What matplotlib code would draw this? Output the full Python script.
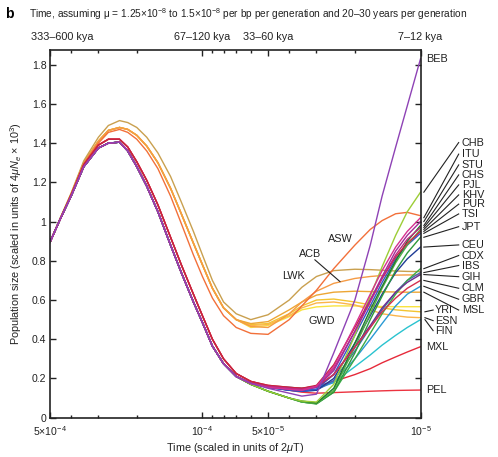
import matplotlib
matplotlib.use("Agg")
import matplotlib.pyplot as plt
import matplotlib.transforms as mtransforms

plt.rcParams["font.family"] = ["Liberation Sans", "DejaVu Sans"]
plt.rcParams["mathtext.fontset"] = "custom"
plt.rcParams["mathtext.rm"] = "Liberation Sans"
plt.rcParams["mathtext.it"] = "Liberation Sans:italic"
plt.rcParams["mathtext.bf"] = "Liberation Sans:bold"

# time grid, scaled in units of 2*mu*T
times_early = [5e-4, 4.5e-4, 4e-4, 3.5e-4, 3e-4, 2.7e-4, 2.4e-4, 2.2e-4, 2e-4,
               1.8e-4, 1.6e-4, 1.4e-4, 1.25e-4, 1.1e-4, 1e-4, 9e-5, 8e-5, 7e-5]
times_late = [6e-5, 5e-5, 4e-5, 3.5e-5, 3e-5, 2.5e-5, 2e-5, 1.7e-5, 1.5e-5,
              1.3e-5, 1.15e-5, 1e-5]

# ancestral part, shared by groups of populations
nonafr_early = [0.895, 1.01, 1.13, 1.28, 1.375, 1.40, 1.405, 1.36, 1.28, 1.18,
                1.05, 0.88, 0.74, 0.59, 0.485, 0.365, 0.275, 0.21]
amr_early = [0.895, 1.01, 1.135, 1.29, 1.39, 1.42, 1.42, 1.38, 1.305, 1.21,
             1.085, 0.92, 0.78, 0.63, 0.52, 0.40, 0.30, 0.225]
afr_top_early = [0.895, 1.015, 1.145, 1.31, 1.43, 1.49, 1.515, 1.505, 1.48, 1.43,
                 1.35, 1.23, 1.10, 0.95, 0.83, 0.70, 0.59, 0.53]
afr_mid_early = [0.895, 1.012, 1.14, 1.30, 1.41, 1.465, 1.48, 1.47, 1.44, 1.385,
                 1.30, 1.17, 1.04, 0.89, 0.78, 0.66, 0.56, 0.50]
afr_low_early = [0.895, 1.01, 1.138, 1.295, 1.40, 1.455, 1.47, 1.455, 1.42, 1.36,
                 1.27, 1.13, 0.99, 0.83, 0.72, 0.61, 0.52, 0.46]

# recent part, one list per population
yri = [0.475, 0.48, 0.53, 0.57, 0.60, 0.605, 0.59, 0.575, 0.56, 0.55, 0.545, 0.54]
lwk = [0.50, 0.525, 0.60, 0.665, 0.72, 0.75, 0.757, 0.755, 0.752, 0.748, 0.746, 0.745]
gwd = [0.46, 0.47, 0.515, 0.55, 0.565, 0.57, 0.57, 0.568, 0.567, 0.566, 0.566, 0.566]
msl = [0.48, 0.49, 0.55, 0.59, 0.625, 0.64, 0.645, 0.643, 0.642, 0.641, 0.64, 0.64]
esn = [0.47, 0.475, 0.52, 0.56, 0.585, 0.59, 0.575, 0.55, 0.53, 0.52, 0.513, 0.51]
asw = [0.43, 0.425, 0.50, 0.57, 0.65, 0.76, 0.88, 0.96, 1.005, 1.04, 1.047, 1.03]
acb = [0.465, 0.46, 0.53, 0.59, 0.645, 0.685, 0.71, 0.72, 0.725, 0.727, 0.728, 0.728]

ceu = [0.175, 0.155, 0.14, 0.135, 0.14, 0.20, 0.38, 0.52, 0.63, 0.74, 0.81, 0.87]
tsi = [0.175, 0.155, 0.14, 0.135, 0.145, 0.22, 0.42, 0.57, 0.69, 0.81, 0.88, 0.94]
fin = [0.175, 0.16, 0.155, 0.15, 0.155, 0.18, 0.26, 0.32, 0.37, 0.42, 0.46, 0.50]
gbr = [0.175, 0.155, 0.145, 0.14, 0.145, 0.18, 0.30, 0.40, 0.48, 0.57, 0.63, 0.67]
ibs = [0.175, 0.155, 0.14, 0.135, 0.14, 0.19, 0.34, 0.46, 0.55, 0.64, 0.70, 0.74]

chb = [0.17, 0.135, 0.10, 0.085, 0.08, 0.17, 0.42, 0.62, 0.77, 0.93, 1.05, 1.15]
jpt = [0.17, 0.135, 0.10, 0.08, 0.07, 0.13, 0.33, 0.50, 0.62, 0.75, 0.84, 0.92]
chs = [0.17, 0.135, 0.10, 0.085, 0.075, 0.15, 0.38, 0.55, 0.67, 0.80, 0.90, 0.98]
cdx = [0.17, 0.135, 0.10, 0.08, 0.072, 0.13, 0.30, 0.43, 0.53, 0.63, 0.70, 0.76]
khv = [0.17, 0.135, 0.10, 0.08, 0.072, 0.14, 0.36, 0.53, 0.66, 0.79, 0.88, 0.96]

gih = [0.175, 0.16, 0.15, 0.145, 0.155, 0.22, 0.36, 0.47, 0.56, 0.64, 0.69, 0.73]
pjl = [0.175, 0.16, 0.15, 0.145, 0.16, 0.25, 0.44, 0.59, 0.71, 0.83, 0.91, 0.97]
beb = [0.175, 0.15, 0.125, 0.11, 0.12, 0.33, 0.60, 0.88, 1.13, 1.38, 1.59, 1.83]
stu = [0.175, 0.155, 0.145, 0.14, 0.155, 0.24, 0.44, 0.60, 0.72, 0.85, 0.93, 1.00]
itu = [0.175, 0.155, 0.145, 0.14, 0.16, 0.26, 0.47, 0.63, 0.75, 0.87, 0.95, 1.02]

mxl = [0.185, 0.16, 0.15, 0.15, 0.16, 0.185, 0.22, 0.25, 0.28, 0.31, 0.335, 0.362]
pur = [0.185, 0.165, 0.155, 0.15, 0.165, 0.27, 0.46, 0.60, 0.71, 0.82, 0.89, 0.95]
clm = [0.185, 0.165, 0.155, 0.15, 0.16, 0.22, 0.36, 0.46, 0.54, 0.61, 0.66, 0.70]
pel = [0.185, 0.16, 0.14, 0.13, 0.125, 0.128, 0.132, 0.135, 0.137, 0.139, 0.14, 0.141]

# (name, ancestral part, recent part, colour)
curves = [
    ("YRI", afr_mid_early, yri, "#f3c431"),
    ("GWD", afr_mid_early, gwd, "#f8e33f"),
    ("ESN", afr_mid_early, esn, "#fbb54a"),
    ("MSL", afr_mid_early, msl, "#eda634"),
    ("ACB", afr_mid_early, acb, "#f59b45"),
    ("LWK", afr_top_early, lwk, "#c9a04f"),
    ("ASW", afr_low_early, asw, "#f2703a"),
    ("PEL", amr_early, pel, "#ec3340"),
    ("MXL", amr_early, mxl, "#e62a3a"),
    ("FIN", nonafr_early, fin, "#2ac3cf"),
    ("GBR", nonafr_early, gbr, "#2a9ad4"),
    ("IBS", nonafr_early, ibs, "#4366b2"),
    ("CEU", nonafr_early, ceu, "#1f3c96"),
    ("TSI", nonafr_early, tsi, "#3556c8"),
    ("CDX", nonafr_early, cdx, "#3cab47"),
    ("JPT", nonafr_early, jpt, "#2e9a3c"),
    ("KHV", nonafr_early, khv, "#55b145"),
    ("CHS", nonafr_early, chs, "#1f7a2e"),
    ("CHB", nonafr_early, chb, "#9ccd36"),
    ("GIH", nonafr_early, gih, "#6b2d92"),
    ("CLM", amr_early, clm, "#d4304f"),
    ("PUR", amr_early, pur, "#c6243f"),
    ("PJL", nonafr_early, pjl, "#c12a80"),
    ("STU", nonafr_early, stu, "#a42b99"),
    ("ITU", nonafr_early, itu, "#d6318f"),
    ("BEB", nonafr_early, beb, "#8e42b5"),
]

# label block on the right: name, label height (y units)
label_names = ["CHB", "ITU", "STU", "CHS", "PJL", "KHV", "PUR", "TSI", "JPT",
               "CEU", "CDX", "IBS", "GIH", "CLM", "GBR", "MSL"]
label_y = [1.403, 1.344, 1.289, 1.238, 1.187, 1.136, 1.089, 1.039, 0.974,
           0.881, 0.827, 0.776, 0.719, 0.660, 0.604, 0.549]
near_names = ["YRI", "ESN", "FIN"]
near_y = [0.549, 0.495, 0.444]

fig = plt.figure(figsize=(4.98, 4.57), dpi=100)
ax = fig.add_axes([0.1004, 0.086, 0.7440, 0.8046])

ends = {}
for name, early, late, col in curves:
    ax.plot(times_early + times_late, early + late, color=col, lw=1.0,
            solid_joinstyle="round", zorder=2)
    ends[name] = late[-1]

ax.set_xscale("log")
ax.set_xlim(5e-4, 1e-5)
ax.set_ylim(0, 1.875)

major_x = [5e-4, 1e-4, 5e-5, 1e-5]
ax.set_xticks(major_x)
ax.set_xticklabels([r"5$\times$10$^{-4}$", r"10$^{-4}$", r"5$\times$10$^{-5}$", r"10$^{-5}$"])
ax.set_xticks([4e-4, 3e-4, 2e-4, 9e-5, 8e-5, 7e-5, 6e-5, 4e-5, 3e-5, 2e-5], minor=True)
ax.xaxis.set_minor_formatter(plt.NullFormatter())
ax.set_yticks([0, 0.2, 0.4, 0.6, 0.8, 1.0, 1.2, 1.4, 1.6, 1.8])
ax.set_yticklabels(["0", "0.2", "0.4", "0.6", "0.8", "1", "1.2", "1.4", "1.6", "1.8"])
ax.tick_params(which="both", direction="in", top=True, right=True,
               labelsize=7.6, color="#222222", labelcolor="#222222")
ax.tick_params(axis="x", pad=4.5)
ax.tick_params(axis="y", pad=2.5)
ax.tick_params(which="major", length=4, width=1.0)
ax.tick_params(which="minor", length=2.2, width=1.0)
for s in ax.spines.values():
    s.set_linewidth(1.2)
    s.set_color("#222222")

ax.set_xlabel(r"Time (scaled in units of 2$\mu$T)", fontsize=7.8, color="#222222", labelpad=2)
ax.set_ylabel(r"Population size (scaled in units of 4$\mu$$N_e$ $\times$ 10$^3$)",
              fontsize=7.8, color="#222222", labelpad=6)

# top axis in years
top_tr = mtransforms.blended_transform_factory(ax.transData, ax.transAxes)
top_labels = ["333–600 kya", "67–120 kya", "33–60 kya", "7–12 kya"]
top_x = [4.41e-4, 1e-4, 5e-5, 1e-5]
for lab, x in zip(top_labels, top_x):
    ax.text(x, 1.022, lab, transform=top_tr, ha="center", va="bottom",
            fontsize=7.8, color="#222222", clip_on=False)

# labels inside the plot
ax.text(2.34e-5, 0.912, "ASW", ha="center", va="center", fontsize=7.8, color="#222222")
ax.text(3.21e-5, 0.834, "ACB", ha="center", va="center", fontsize=7.8, color="#222222")
ax.text(3.84e-5, 0.724, "LWK", ha="center", va="center", fontsize=7.8, color="#222222")
ax.text(2.84e-5, 0.495, "GWD", ha="center", va="center", fontsize=7.8, color="#222222")
ax.plot([3.05e-5, 2.34e-5], [0.805, 0.694], color="#222222", lw=0.8)

# labels on the right with leader lines
side_tr = mtransforms.blended_transform_factory(ax.transAxes, ax.transData)
for name, y in zip(label_names, label_y):
    ax.plot([1.009, 1.103], [ends[name], y], transform=side_tr, color="#222222",
            lw=0.8, clip_on=False)
    ax.text(1.111, y, name, transform=side_tr, ha="left", va="center",
            fontsize=7.8, color="#222222")
for name, y in zip(near_names, near_y):
    ax.plot([1.012, 1.034], [ends[name], y], transform=side_tr, color="#222222",
            lw=0.8, clip_on=False)
    ax.text(1.039, y, name, transform=side_tr, ha="left", va="center",
            fontsize=7.8, color="#222222")
for name in ["BEB", "MXL", "PEL"]:
    ax.text(1.015, ends[name], name, transform=side_tr, ha="left", va="center",
            fontsize=7.8, color="#222222")

fig.text(0.010, 0.969, "b", fontsize=10, fontweight="bold", ha="left", va="center")
fig.text(0.058, 0.969,
         r"Time, assuming μ = 1.25×10$^{-8}$ to 1.5×10$^{-8}$ per bp per generation and 20–30 years per generation",
         fontsize=7.3, color="#222222", ha="left", va="center")

fig.savefig("out.png", dpi=100)
